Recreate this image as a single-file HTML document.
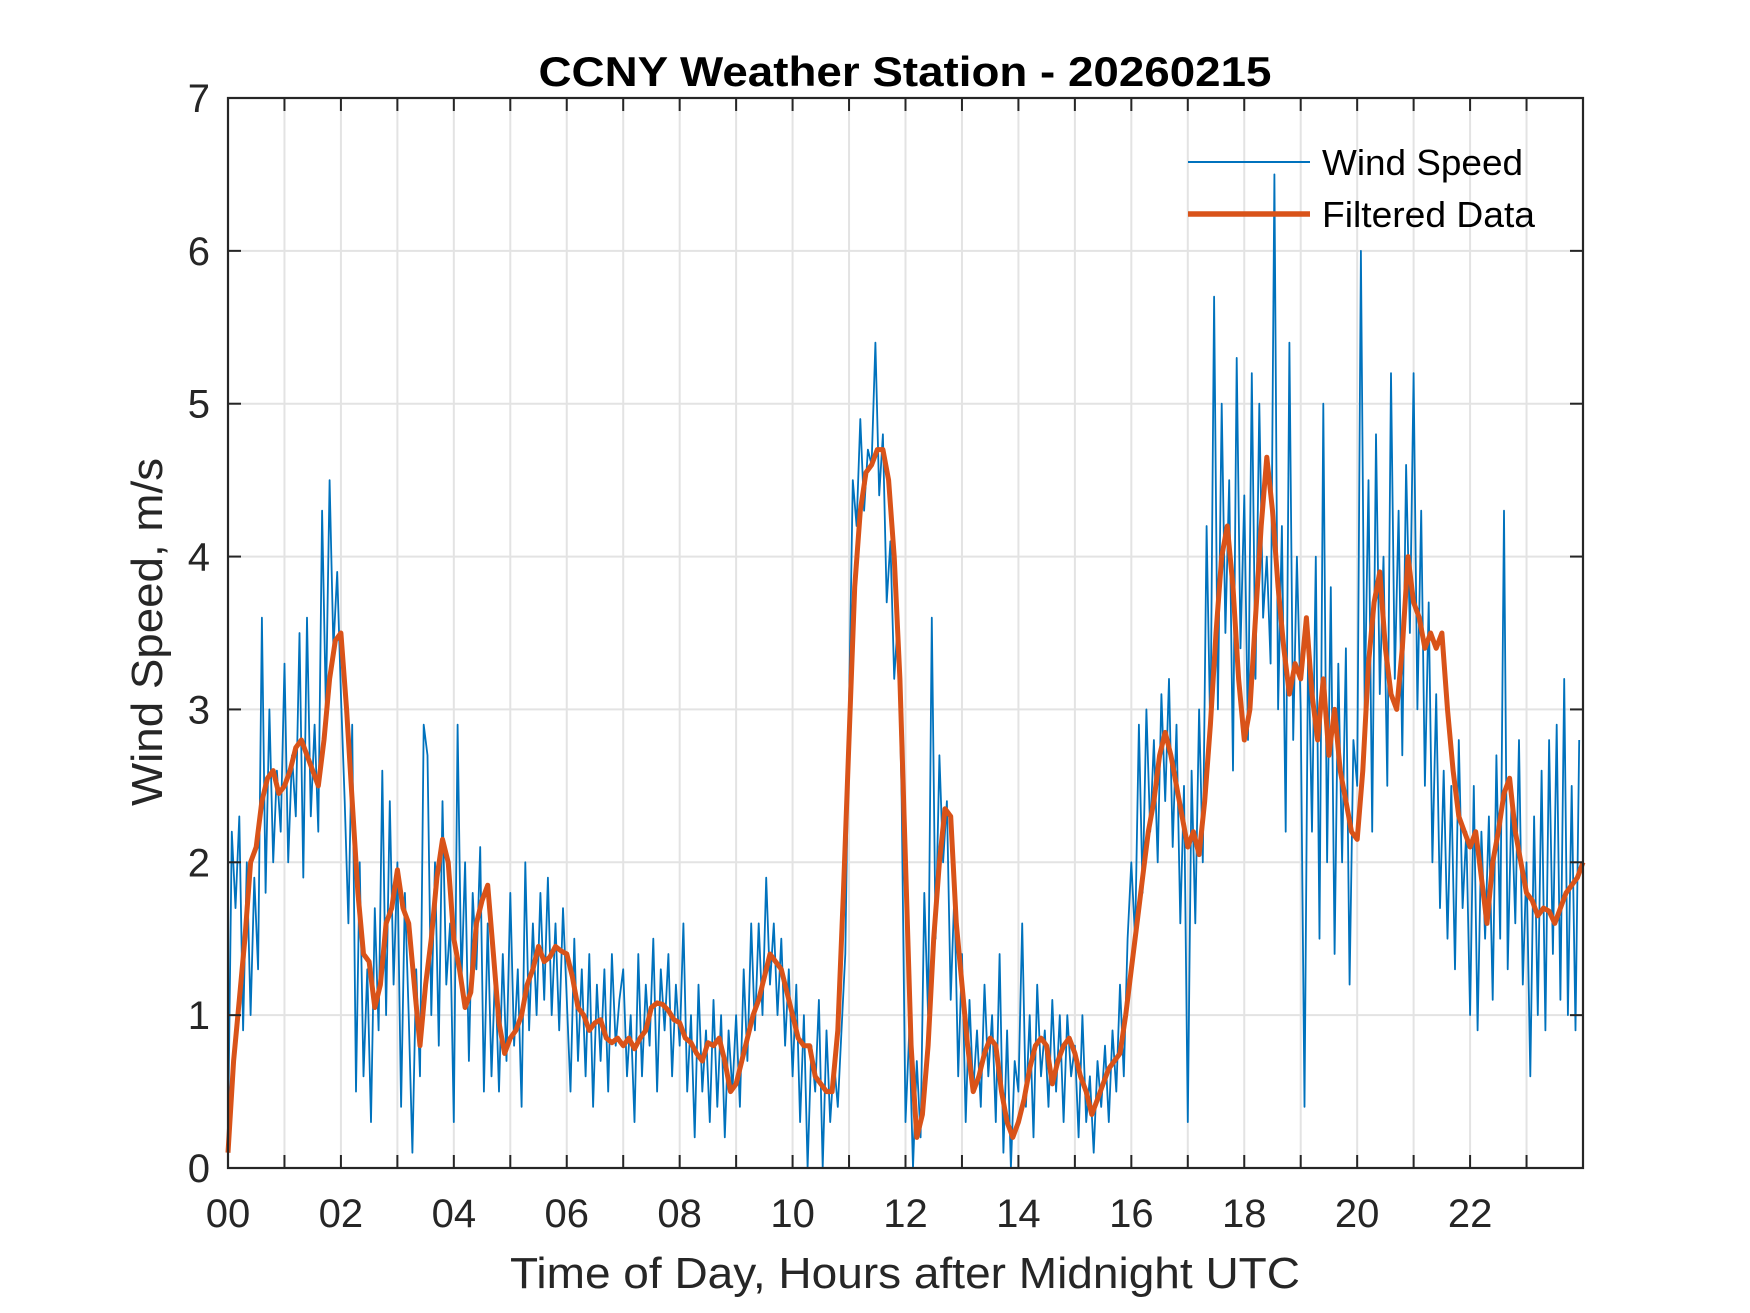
<!DOCTYPE html>
<html><head><meta charset="utf-8"><style>
html,body{margin:0;padding:0;background:#fff;}
svg{display:block;font-family:"Liberation Sans",Arial,sans-serif;}
</style></head><body>
<svg id="chart" width="1750" height="1313" viewBox="0 0 1750 1313" xmlns="http://www.w3.org/2000/svg">
<rect width="1750" height="1313" fill="#fff"/>
<g id="grid"></g>
<g id="series"></g>
<rect x="228" y="98" width="1355" height="1070" fill="none" stroke="#262626" stroke-width="2.2"/>
<g id="ticks"></g>
<text x="905" y="86" text-anchor="middle" font-size="42" font-weight="bold" fill="#000" textLength="733" lengthAdjust="spacingAndGlyphs">CCNY Weather Station - 20260215</text>
<text x="905" y="1288" text-anchor="middle" font-size="44" fill="#262626" textLength="790" lengthAdjust="spacingAndGlyphs">Time of Day, Hours after Midnight UTC</text>
<text transform="translate(162,632) rotate(-90)" text-anchor="middle" font-size="44" fill="#262626" textLength="348" lengthAdjust="spacingAndGlyphs">Wind Speed, m/s</text>
<g>
<line x1="1188" y1="162" x2="1310" y2="162" stroke="#0072BD" stroke-width="2"/>
<text x="1322" y="175" font-size="36" fill="#000" textLength="201" lengthAdjust="spacingAndGlyphs">Wind Speed</text>
<line x1="1188" y1="214" x2="1310" y2="214" stroke="#D95319" stroke-width="5.5"/>
<text x="1322" y="227" font-size="36" fill="#000" textLength="213" lengthAdjust="spacingAndGlyphs">Filtered Data</text>
</g>
</svg>
<script>
const windRaw = [
0.2,2.2,1.7,2.3,0.9,2.0,1.0,1.9,1.3,3.6,1.8,3.0,2.0,2.6,2.2,
3.3,2.0,2.7,2.3,3.5,1.9,3.6,2.3,2.9,2.2,4.3,3.0,4.5,3.4,3.9,
3.1,2.4,1.6,2.9,0.5,2.0,0.6,1.3,0.3,1.7,0.9,2.6,1.0,2.4,1.2,
2.0,0.4,1.8,1.0,0.1,1.3,0.6,2.9,2.7,1.0,2.0,0.8,2.4,1.2,1.6,
0.3,2.9,1.2,2.0,0.7,1.8,1.3,2.1,0.5,1.6,0.6,1.3,0.5,1.4,0.7,
1.8,0.8,1.3,0.4,2.0,0.9,1.6,1.0,1.8,1.1,1.9,1.0,1.6,0.9,1.7,
1.1,0.5,1.5,0.7,1.3,0.6,1.4,0.4,1.2,0.7,1.3,0.5,1.4,0.8,1.1,
1.3,0.6,1.0,0.3,1.4,0.6,1.2,0.8,1.5,0.5,1.3,0.9,1.4,0.6,1.2,
0.8,1.6,0.5,1.0,0.2,1.2,0.5,0.9,0.3,1.1,0.4,1.0,0.2,0.9,0.5,
1.0,0.4,1.3,0.7,1.6,0.9,1.6,1.0,1.9,1.2,1.6,1.0,1.5,0.8,1.3,
0.6,1.2,0.3,1.0,0.0,0.8,0.5,1.1,0.0,0.9,0.3,0.7,0.4,0.9,1.4,
3.0,4.5,4.2,4.9,4.3,4.7,4.6,5.4,4.4,4.8,3.7,4.1,3.2,3.6,2.4,
0.3,0.9,0.0,0.7,0.2,1.8,1.0,3.6,1.5,2.7,2.0,2.4,1.1,1.8,0.6,
1.4,0.3,1.1,0.5,0.9,0.4,1.2,0.6,1.0,0.3,1.4,0.1,0.9,0.0,0.7,
0.5,1.6,0.4,1.0,0.2,1.2,0.6,0.9,0.4,1.1,0.5,1.0,0.3,1.0,0.6,
0.8,0.2,1.0,0.3,0.6,0.1,0.7,0.4,0.8,0.3,0.9,0.5,1.2,0.6,1.5,
2.0,1.5,2.9,1.8,3.0,2.2,2.8,2.0,3.1,2.4,3.2,2.1,2.9,1.6,2.5,
0.3,2.6,1.6,3.0,2.0,4.2,2.8,5.7,3.0,5.0,3.5,4.5,2.6,5.3,3.4,
4.4,2.8,5.2,3.2,5.0,3.6,4.0,3.3,6.5,3.0,4.2,2.2,5.4,2.8,4.0,
3.0,0.4,3.5,2.2,4.0,1.5,5.0,2.0,3.8,1.4,3.3,2.0,3.4,1.2,2.8,
2.5,6.0,3.0,4.5,2.2,4.8,3.1,4.0,2.5,5.2,3.2,4.3,2.7,4.6,3.5,
5.2,3.0,4.3,2.5,3.7,2.0,3.1,1.7,2.6,1.5,2.5,1.3,2.8,1.7,2.2,
1.0,2.5,0.9,2.2,1.5,2.3,1.1,2.7,1.5,4.3,1.3,2.4,1.6,2.8,1.2,
2.0,0.6,2.3,1.0,2.6,0.9,2.8,1.4,2.9,1.1,3.2,1.0,2.5,0.9,2.8];
const filtered = [
0.1,0.7,1.1,1.5,2.0,2.1,2.4,2.55,2.6,2.45,
2.5,2.6,2.75,2.8,2.7,2.6,2.5,2.8,3.2,3.45,
3.5,3.0,2.4,1.8,1.4,1.35,1.05,1.2,1.6,1.7,
1.95,1.7,1.6,1.2,0.8,1.2,1.5,1.9,2.15,2.0,
1.5,1.3,1.05,1.15,1.6,1.75,1.85,1.4,0.95,0.75,
0.85,0.9,1.0,1.2,1.3,1.45,1.35,1.38,1.45,1.42,
1.4,1.25,1.05,1.0,0.9,0.95,0.97,0.85,0.82,0.85,
0.8,0.85,0.78,0.85,0.9,1.05,1.08,1.07,1.03,0.97,
0.95,0.85,0.82,0.75,0.7,0.82,0.8,0.85,0.7,0.5,
0.55,0.7,0.85,1.0,1.1,1.25,1.4,1.35,1.3,1.15,
1.0,0.85,0.8,0.8,0.6,0.55,0.5,0.5,0.9,1.8,
2.8,3.8,4.3,4.55,4.6,4.7,4.7,4.5,4.0,3.2,
2.0,0.8,0.2,0.35,0.8,1.5,2.0,2.35,2.3,1.6,
1.2,0.8,0.5,0.6,0.75,0.85,0.8,0.5,0.3,0.2,
0.3,0.45,0.65,0.8,0.85,0.8,0.55,0.7,0.8,0.85,
0.75,0.6,0.5,0.35,0.45,0.55,0.65,0.7,0.75,1.0,
1.3,1.6,1.9,2.2,2.4,2.7,2.85,2.7,2.5,2.3,
2.1,2.2,2.05,2.4,2.9,3.5,4.0,4.2,3.8,3.2,
2.8,3.0,3.6,4.2,4.65,4.3,3.8,3.4,3.1,3.3,
3.2,3.6,3.1,2.8,3.2,2.7,3.0,2.6,2.4,2.2,
2.15,2.6,3.3,3.7,3.9,3.4,3.1,3.0,3.4,4.0,
3.7,3.6,3.4,3.5,3.4,3.5,3.0,2.6,2.3,2.2,
2.1,2.2,1.9,1.6,2.0,2.2,2.45,2.55,2.2,2.0,
1.8,1.75,1.65,1.7,1.68,1.6,1.7,1.8,1.85,1.9,2.0];
const xTickLabels = ["00","02","04","06","08","10","12","14","16","18","20","22"];
const yTickLabels = ["0","1","2","3","4","5","6","7"];

const X0=228,X1=1583,Y0=1168,Y1=98;
const xScale=h=>X0+(h/24)*(X1-X0);
const yScale=v=>Y0-(v/7)*(Y0-Y1);
const NS="http://www.w3.org/2000/svg";
function mk(tag,attrs,parent){const e=document.createElementNS(NS,tag);for(const k in attrs)e.setAttribute(k,attrs[k]);parent.appendChild(e);return e;}
const grid=document.getElementById('grid'),ticks=document.getElementById('ticks'),series=document.getElementById('series');
for(let h=1;h<24;h++){
  const x=xScale(h);
  const g=mk('line',{x1:x,y1:Y1,x2:x,y2:Y0,stroke:'#e3e3e3','stroke-width':2},grid);
  
  
  const t1=mk('line',{x1:x,y1:Y0,x2:x,y2:Y0-13,stroke:'#262626','stroke-width':2},ticks);
  
  
  const t2=mk('line',{x1:x,y1:Y1,x2:x,y2:Y1+13,stroke:'#262626','stroke-width':2},ticks);
  
  
}
xTickLabels.forEach((lab,i)=>{
  const t=mk('text',{x:xScale(i*2),y:1227,'text-anchor':'middle','font-size':40,fill:'#262626'},ticks);
  t.textContent=lab;
  
  
});
yTickLabels.forEach((lab,i)=>{
  const y=yScale(i);
  if(i>0&&i<7){
    const g=mk('line',{x1:X0,y1:y,x2:X1,y2:y,stroke:'#e3e3e3','stroke-width':2},grid);
    
    
    const t1=mk('line',{x1:X0,y1:y,x2:X0+13,y2:y,stroke:'#262626','stroke-width':2},ticks);
    
    
    const t2=mk('line',{x1:X1,y1:y,x2:X1-13,y2:y,stroke:'#262626','stroke-width':2},ticks);
    
    
  }
  const t=mk('text',{x:210,y:y+14,'text-anchor':'end','font-size':40,fill:'#262626'},ticks);
  t.textContent=lab;
  
  
});
const wp=windRaw.map((v,i)=>xScale(i*24/windRaw.length).toFixed(1)+','+yScale(v).toFixed(1)).join(' ');
const wl=mk('polyline',{points:wp,fill:'none',stroke:'#0072BD','stroke-width':1.8,'stroke-linejoin':'round'},series);


const fp=filtered.map((v,i)=>xScale(i*24/(filtered.length-1)).toFixed(1)+','+yScale(v).toFixed(1)).join(' ');
const fl=mk('polyline',{points:fp,fill:'none',stroke:'#D95319','stroke-width':5,'stroke-linejoin':'round'},series);


</script>
</body></html>
